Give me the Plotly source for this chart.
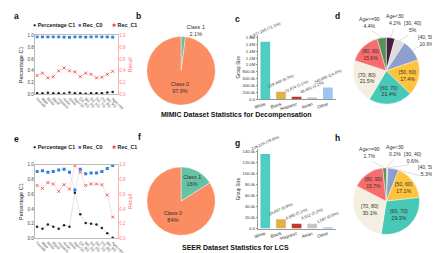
import math
import plotly.graph_objects as go

W, H = 440, 253

# ---------------- data ----------------
groups = ["Female", "Male", "White", "Black", "Hispanic", "Asian", "Other",
          "Age<30", "[30, 40)", "[40, 50)", "[50, 60)", "[60, 70)", "[70, 80)", "[80, 90)", "Age>=90"]

mimic_pct_c1 = [0.02, 0.02, 0.025, 0.02, 0.02, 0.015, 0.03, 0.02, 0.02, 0.01, 0.02, 0.02, 0.02, 0.03, 0.04]
mimic_rec_c0 = [0.98, 0.98, 0.98, 0.98, 0.98, 0.975, 0.97, 0.98, 0.98, 0.975, 0.98, 0.985, 0.98, 0.98, 0.975]
mimic_rec_c1 = [0.32, 0.36, 0.28, 0.30, 0.40, 0.45, 0.40, 0.38, 0.30, 0.36, 0.34, 0.28, 0.29, 0.34, 0.39]

seer_pct_c1 = [0.16, 0.13, 0.19, 0.16, 0.13, 0.18, 0.16, 0.62, 0.33, 0.21, 0.20, 0.19, 0.14, 0.07, 0.01]
seer_rec_c0 = [0.91, 0.92, 0.90, 0.91, 0.93, 0.94, 0.90, 0.66, 0.94, 0.88, 0.89, 0.89, 0.91, 0.95, 0.99]
seer_rec_c1 = [0.72, 0.68, 0.76, 0.74, 0.64, 0.73, 0.67, 0.99, 0.90, 0.72, 0.74, 0.74, 0.73, 0.59, 0.29]

class_labels = ["Class 1", "Class 0"]
mimic_class = [2.1, 97.9]
seer_class = [16, 84]

races = ["White", "Black", "Hispanic", "Asian", "Other"]
mimic_race = [1677165, 219448, 72874, 48652, 340000]
seer_race = [136234, 16887, 8880, 8912, 1597]

mimic_ticks = [0, 200e3, 400e3, 600e3, 800e3, 1.0e6, 1.2e6, 1.4e6, 1.6e6, 1.8e6]
mimic_ticktext = ["0.0", "200.0k", "400.0k", "600.0k", "800.0k", "1.0M", "1.2M", "1.4M", "1.6M", "1.8M"]
seer_ticks = [0, 20e3, 40e3, 60e3, 80e3, 100e3, 120e3, 140e3]
seer_ticktext = ["0.0", "20.0k", "40.0k", "60.0k", "80.0k", "100.0k", "120.0k", "140.0k"]

ages = ["Age<30", "[30, 40)", "[40, 50)", "[50, 60)", "[60, 70)", "[70, 80)", "[80, 90)", "Age>=90"]
mimic_age = [4.2, 5, 10.6, 17.4, 21.4, 21.5, 15.6, 4.4]
seer_age = [0.2, 0.6, 5.3, 17.1, 29.3, 30.1, 15.7, 1.7]
age_outside = [True, True, True, False, False, False, False, True]

# ---------------- styles ----------------
FONT = "Liberation Sans, Arial, sans-serif"
race_colors = ["#4ecdc4", "#e2b04a", "#c0392b", "#c6c6c6", "#9dc4f5"]
age_colors = ["#4a1c40", "#dcdcdc", "#8d9fcf", "#ffc43d", "#48c9b8", "#f4efe1", "#f76c6c", "#5a8f5a"]
class_colors = ["#66c2a5", "#fc8d62"]


def xd(a, b):
    return [a / W, b / W]


def yd(top, bottom):
    return [1 - bottom / H, 1 - top / H]


fig = go.Figure()
ann = []
shapes = []


def txt(x, y, s, size, color="#111", xanchor="center"):
    ann.append(dict(x=x / W, y=1 - y / H, xref="paper", yref="paper", text=s, showarrow=False,
                    xanchor=xanchor, yanchor="middle", font=dict(size=size, color=color, family=FONT)))


def line_panel(pct, rc0, rc1, xa, ya, ya2):
    common = dict(x=groups, mode="lines+markers", showlegend=False, hoverinfo="skip")
    fig.add_trace(go.Scatter(y=pct, xaxis=xa, yaxis=ya,
                             line=dict(color="#d0d0d0", width=0.6),
                             marker=dict(color="#222", size=2.5, symbol="circle"), **common))
    fig.add_trace(go.Scatter(y=rc0, xaxis=xa, yaxis=ya2,
                             line=dict(color="#c9dcf3", width=0.6),
                             marker=dict(color="#2f7fe0", size=3, symbol="square"), **common))
    fig.add_trace(go.Scatter(y=rc1, xaxis=xa, yaxis=ya2,
                             line=dict(color="#f8c8c8", width=0.6),
                             marker=dict(color="#f03a3a", size=3, symbol="x-thin",
                                         line=dict(color="#f03a3a", width=0.8)), **common))


line_panel(mimic_pct_c1, mimic_rec_c0, mimic_rec_c1, "x", "y", "y2")
line_panel(seer_pct_c1, seer_rec_c0, seer_rec_c1, "x3", "y3", "y4")


def bar_panel(vals, xa, ya):
    tot = sum(vals)
    t = [f"{v:,} ({v / tot * 100:.1f}%)" for v in vals]
    fig.add_trace(go.Bar(x=races, y=vals, xaxis=xa, yaxis=ya, marker=dict(color=race_colors, line=dict(width=0)),
                         text=t, textposition="outside", textangle=-24, cliponaxis=False,
                         constraintext="none",
                         textfont=dict(size=4, color="#333", family=FONT), width=0.62,
                         showlegend=False, hoverinfo="skip"))


bar_panel(mimic_race, "x5", "y5")
bar_panel(seer_race, "x6", "y6")


def pie(labels, vals, colors, cx, cy, r, pos, size=5.3):
    fig.add_trace(go.Pie(labels=labels, values=vals, sort=False, direction="clockwise", rotation=0,
                         marker=dict(colors=colors, line=dict(color="white", width=0.4)),
                         texttemplate="%{label}<br>%{percent}", textposition=pos,
                         insidetextorientation="horizontal",
                         textfont=dict(size=size, color="#333", family=FONT),
                         domain=dict(x=xd(cx - r, cx + r), y=yd(cy - r, cy + r)),
                         showlegend=False, hoverinfo="skip"))


def age_pie(vals, cx, cy, r):
    tot = sum(vals)
    templ = ["" if o else "%{label}<br>%{percent}" for o in age_outside]
    fig.add_trace(go.Pie(labels=ages, values=vals, sort=False, direction="clockwise", rotation=0,
                         marker=dict(colors=age_colors, line=dict(color="white", width=0.4)),
                         texttemplate=templ, textposition="inside",
                         insidetextorientation="horizontal",
                         textfont=dict(size=5.2, color="#333", family=FONT),
                         domain=dict(x=xd(cx - r, cx + r), y=yd(cy - r, cy + r)),
                         showlegend=False, hoverinfo="skip"))
    cum = 0
    mids = []
    for v in vals:
        mids.append((cum + v / 2) / tot * 360)
        cum += v
    right = sorted([i for i in range(len(vals)) if age_outside[i] and mids[i] < 180], key=lambda i: mids[i])
    left = sorted([i for i in range(len(vals)) if age_outside[i] and mids[i] >= 180], key=lambda i: -mids[i])
    gap = 22
    place = {}
    prev = -999
    for i in right:
        a = max(mids[i], 10, prev + gap)
        place[i] = a
        prev = a
    prev = 999
    for i in left:
        a = min(mids[i], 340, prev - gap)
        place[i] = a
        prev = a
    for i, a in place.items():
        rad = math.radians(a)
        m = math.radians(mids[i])
        lx = cx + 1.5 * r * math.sin(rad)
        ly = cy - 1.55 * r * math.cos(rad)
        txt(lx, ly, f"{ages[i]}<br>{vals[i] / tot * 100:.3g}%", 5.1, "#333")
        x0, y0 = cx + r * math.sin(m), cy - r * math.cos(m)
        x1, y1 = cx + 1.28 * r * math.sin(rad), cy - 1.28 * r * math.cos(rad)
        shapes.append(dict(type="line", xref="paper", yref="paper", x0=x0 / W, y0=1 - y0 / H,
                           x1=x1 / W, y1=1 - y1 / H, line=dict(color="#c8c8c8", width=0.6)))


pie(class_labels, mimic_class, class_colors, 173, 62, 35, ["outside", "inside"], 5.5)
pie(class_labels, seer_class, class_colors, 173, 195, 35, ["inside", "inside"], 5.5)
age_pie(mimic_age, 383, 62, 34)
age_pie(seer_age, 383, 195, 34)

tick_small = dict(size=4.5, color="#444", family=FONT)
title_small = dict(size=5.5, color="#222", family=FONT)

line_x = dict(type="category", tickangle=45, tickfont=dict(size=3.7, color="#555", family=FONT),
              showline=True, linecolor="#bbb", linewidth=0.6, mirror=True, ticks="",
              range=[-0.3, 14.9], showgrid=False, zeroline=False)
left_y = dict(range=[0, 1.0], tickvals=[0, 0.2, 0.4, 0.6, 0.8, 1.0], tickformat=".1f",
              tickfont=tick_small, showline=True, linecolor="#bbb", linewidth=0.6,
              showgrid=False, zeroline=False, ticks="",
              title=dict(text="Percentage C1", font=title_small, standoff=3))
right_y = dict(range=[0, 1.0], tickvals=[0, 0.2, 0.4, 0.6, 0.8, 1.0], tickformat=".1f", side="right",
               tickfont=dict(size=4.5, color="#ff7b7b", family=FONT), showline=True,
               linecolor="#ffb3b3", linewidth=0.6, showgrid=False, zeroline=False, ticks="",
               title=dict(text="Recall", font=dict(size=5.5, color="#ff6b6b", family=FONT), standoff=3))

bar_x = dict(type="category", tickangle=-18, tickfont=dict(size=4.5, color="#333", family=FONT),
             showline=True, linecolor="#999", linewidth=0.5, ticks="", range=[-0.45, 4.55],
             showgrid=False, zeroline=False)


def bar_y(ticks, tt, rng):
    return dict(range=rng, tickvals=ticks, ticktext=tt, tickfont=dict(size=4.2, color="#333", family=FONT),
                showline=True, linecolor="#999", linewidth=0.5, ticks="outside", ticklen=1.5,
                tickcolor="#999", tickwidth=0.5, showgrid=False, zeroline=False,
                title=dict(text="Group Size", font=dict(size=4.5, color="#333", family=FONT), standoff=2))


fig.update_layout(
    width=W, height=H, margin=dict(l=0, r=0, t=0, b=0),
    paper_bgcolor="white", plot_bgcolor="white", font=dict(family=FONT),
    xaxis=dict(domain=xd(24, 108), anchor="y", **line_x),
    yaxis=dict(domain=yd(26, 86), anchor="x", **left_y),
    yaxis2=dict(overlaying="y", anchor="x", **right_y),
    xaxis3=dict(domain=xd(24, 108), anchor="y3", **line_x),
    yaxis3=dict(domain=yd(158, 233), anchor="x3", **left_y),
    yaxis4=dict(overlaying="y3", anchor="x3", **right_y),
    xaxis5=dict(domain=xd(252, 332), anchor="y5", **bar_x),
    yaxis5=dict(domain=yd(26, 91), anchor="x5", **bar_y(mimic_ticks, mimic_ticktext, [0, 1.86e6])),
    xaxis6=dict(domain=xd(252, 332), anchor="y6", **bar_x),
    yaxis6=dict(domain=yd(142, 223), anchor="x6", **bar_y(seer_ticks, seer_ticktext, [0, 145e3])),
)

for letter, (lx, ly) in zip("abcdefgh", [(5, 6), (129, 6), (231, 9), (333, 6),
                                          (5, 132), (130, 130), (231, 136), (333, 131)]):
    txt(lx, ly, f"<b>{letter}</b>", 8.5)

for ly in (15, 140):
    txt(19, ly, "<span style='color:#222'>●</span> <b>Percentage C1</b>", 5.4, "#222", "left")
    txt(65, ly, "<span style='color:#2f7fe0'>■</span> <b>Rec_C0</b>", 5.4, "#222", "left")
    txt(100, ly, "<span style='color:#f03a3a'>✱</span> <b>Rec_C1</b>", 5.4, "#222", "left")

txt(230, 107, "<b>MIMIC Dataset Statistics for Decompensation</b>", 7)
txt(229, 242, "<b>SEER Dataset Statistics for LCS</b>", 7)

fig.update_layout(annotations=ann, shapes=shapes)
fig.write_html("out.html")
